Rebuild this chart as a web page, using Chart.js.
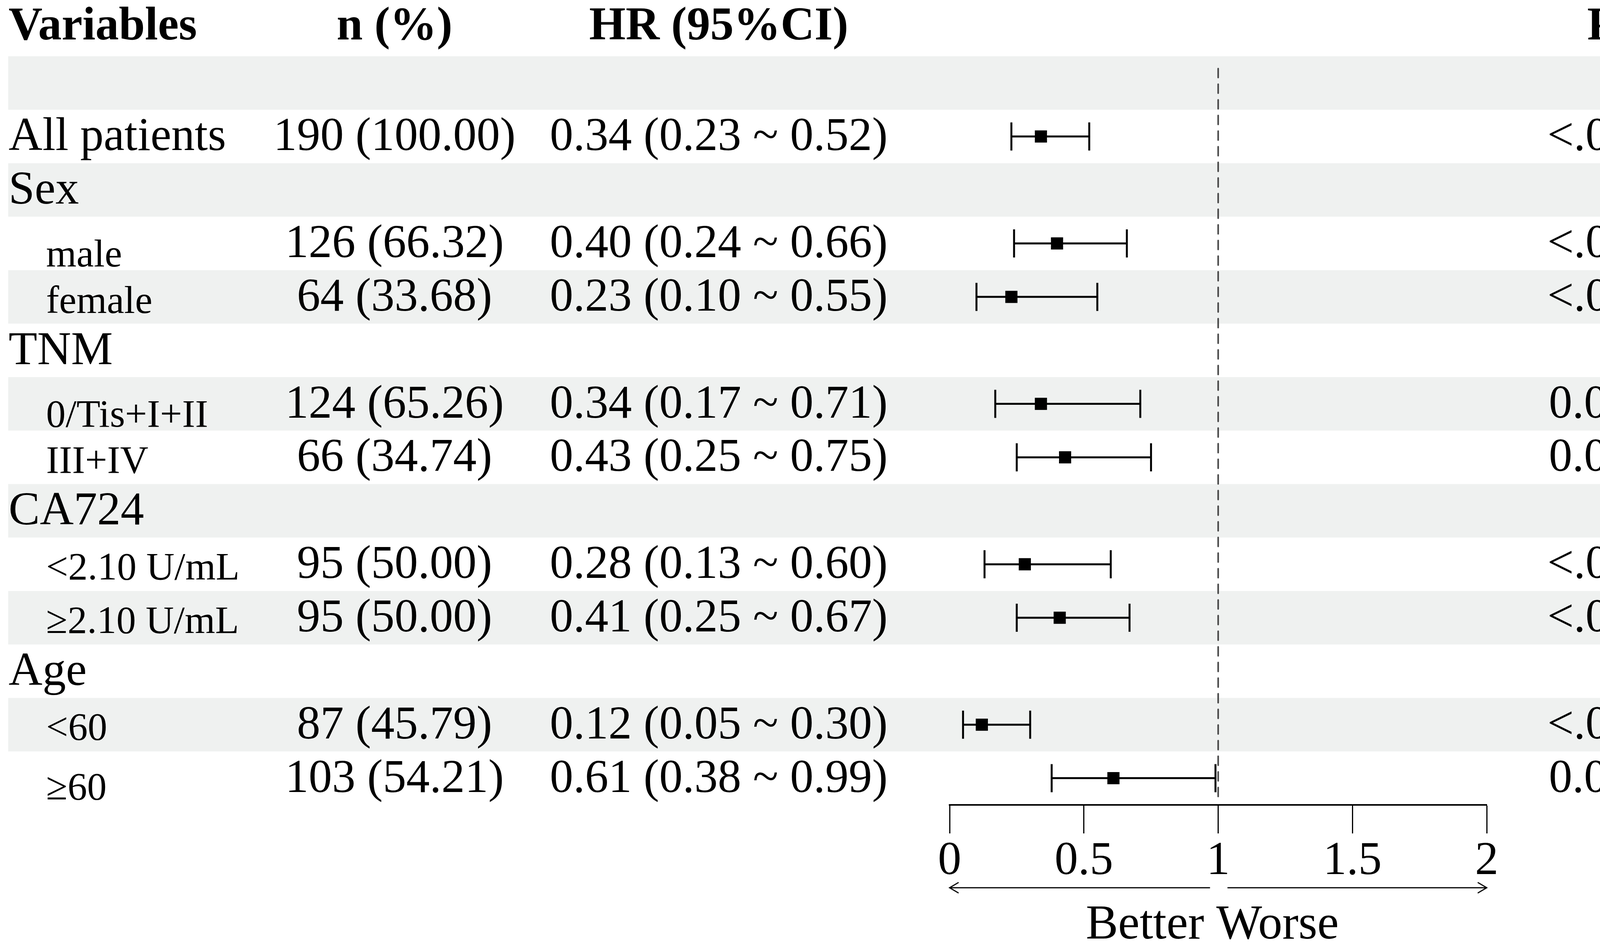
<!DOCTYPE html>
<html>
<head>
<meta charset="utf-8">
<script src="https://cdn.jsdelivr.net/npm/chart.js@4.4.1/dist/chart.umd.min.js"></script>
<style>
  html, body { margin: 0; padding: 0; background: #ffffff; }
  #wrap { width: 5208px; height: 2416px; }
</style>
</head>
<body>
<div id="wrap"><canvas id="c" width="5208" height="2416"></canvas></div>
<script>
// ---------------- data ----------------
const headers = ["Variables", "n (%)", "HR (95%CI)", "P", "P for interaction"];
const rowLabels = ["", "All patients", "Sex", "male", "female", "TNM", "0/Tis+I+II", "III+IV", "CA724", "<2.10 U/mL", "\u22652.10 U/mL", "Age", "<60", "\u226560"];
const rowLevel = [0, 0, 0, 1, 1, 0, 1, 1, 0, 1, 1, 0, 1, 1];
const nPercent = ["", "190 (100.00)", "", "126 (66.32)", "64 (33.68)", "", "124 (65.26)", "66 (34.74)", "", "95 (50.00)", "95 (50.00)", "", "87 (45.79)", "103 (54.21)"];
const hrEst  = [null, 0.34, null, 0.40, 0.23, null, 0.34, 0.43, null, 0.28, 0.41, null, 0.12, 0.61];
const hrLow  = [null, 0.23, null, 0.24, 0.10, null, 0.17, 0.25, null, 0.13, 0.25, null, 0.05, 0.38];
const hrHigh = [null, 0.52, null, 0.66, 0.55, null, 0.71, 0.75, null, 0.60, 0.67, null, 0.30, 0.99];
const pValue = ["", "<.001", "", "<.001", "<.001", "", "0.004", "0.003", "", "<.001", "<.001", "", "<.001", "0.045"];
const pInteraction = ["", "", "0.269", "", "", "0.633", "", "", "0.459", "", "", "0.001", "", ""];
const xTicks = [0, 0.5, 1, 1.5, 2];
const refValue = 1;
const axisLabel = "Better Worse";

// ---------------- layout / style ----------------
const FONT = "'Liberation Serif', 'Times New Roman', serif";
const BAND = "#eff1f0";
const COL = { label: 22, sub: 118, n: 1010, hr: 1840, p: 4100, pint: 4730, pintHead: 4746 };
const BAND_X0 = 21, BAND_X1 = 5193;
// baseline drop (from row centre) for indented labels
const subDrop = { 3: 59, 4: 41, 6: 58, 7: 40, 9: 39, 10: 39, 12: 38, 13: 54 };

const rowIdx = rowLabels.map((_, i) => i);
const fmt = v => v.toFixed(2);
const hrText = rowIdx.map(i => hrEst[i] == null ? "" : `${fmt(hrEst[i])} (${fmt(hrLow[i])} ~ ${fmt(hrHigh[i])})`);

const datasets = [];
// HR point estimates (squares) - drawn on top
datasets.push({
  type: 'scatter',
  data: rowIdx.filter(i => hrEst[i] != null).map(i => ({ x: hrEst[i], y: i })),
  pointStyle: 'rect',
  pointRadius: 22,
  pointBackgroundColor: '#000',
  pointBorderWidth: 0,
  showLine: false
});
// CI whiskers with caps
rowIdx.filter(i => hrEst[i] != null).forEach(i => {
  datasets.push({
    type: 'line',
    data: [{ x: hrLow[i], y: i }, { x: hrHigh[i], y: i }],
    borderColor: '#000',
    borderWidth: 5,
    pointStyle: 'line',
    pointRotation: 90,
    pointRadius: 36,
    pointBorderColor: '#000',
    pointBorderWidth: 5,
    fill: false
  });
});
// dashed reference line at HR = 1
datasets.push({
  type: 'line',
  data: [{ x: refValue, y: -0.27 }, { x: refValue, y: 13.35 }],
  borderColor: '#444',
  borderWidth: 4,
  borderDash: [23, 17],
  borderCapStyle: 'round',
  pointRadius: 0,
  fill: false
});

const tablePlugin = {
  id: 'table',
  beforeDraw(chart) {
    const ctx = chart.ctx, ys = chart.scales.y;
    ctx.save();
    ctx.fillStyle = '#fff';
    ctx.fillRect(0, 0, chart.width, chart.height);
    ctx.fillStyle = BAND;
    rowIdx.forEach(i => {
      if (i % 2 === 0) {
        const t = ys.getPixelForValue(i - 0.5), b = ys.getPixelForValue(i + 0.5);
        ctx.fillRect(BAND_X0, t, BAND_X1 - BAND_X0, b - t);
      }
    });
    ctx.restore();
  },
  afterDraw(chart) {
    const ctx = chart.ctx, ys = chart.scales.y, xs = chart.scales.x;
    ctx.save();
    ctx.fillStyle = '#000';
    ctx.textBaseline = 'alphabetic';
    // header
    const hy = ys.getPixelForValue(-1) + 25;
    ctx.font = `bold 120px ${FONT}`;
    ctx.textAlign = 'left';  ctx.fillText(headers[0], COL.label, hy);
    ctx.textAlign = 'center';
    ctx.fillText(headers[1], COL.n, hy);
    ctx.fillText(headers[2], COL.hr, hy);
    ctx.fillText(headers[3], COL.p, hy);
    ctx.fillText(headers[4], COL.pintHead, hy);
    // rows
    rowIdx.forEach(i => {
      const yc = ys.getPixelForValue(i);
      const by = yc + 35;
      if (rowLabels[i]) {
        ctx.textAlign = 'left';
        if (rowLevel[i] === 1) {
          ctx.font = `100px ${FONT}`;
          ctx.fillText(rowLabels[i], COL.sub, yc + (subDrop[i] != null ? subDrop[i] : 40));
        } else {
          ctx.font = `120px ${FONT}`;
          ctx.fillText(rowLabels[i], COL.label, by);
        }
      }
      ctx.font = `120px ${FONT}`;
      ctx.textAlign = 'center';
      if (nPercent[i]) ctx.fillText(nPercent[i], COL.n, by);
      if (hrText[i]) ctx.fillText(hrText[i], COL.hr, by);
      if (pValue[i]) ctx.fillText(pValue[i], COL.p, by);
      if (pInteraction[i]) ctx.fillText(pInteraction[i], COL.pint, by);
    });
    // direction arrows below the axis
    const ay = chart.chartArea.bottom + 212;
    const x0 = xs.getPixelForValue(xTicks[0]);
    const x1 = xs.getPixelForValue(refValue);
    const x2 = xs.getPixelForValue(xTicks[xTicks.length - 1]);
    ctx.strokeStyle = '#000';
    ctx.lineWidth = 3;
    ctx.lineCap = 'round';
    ctx.beginPath();
    ctx.moveTo(x1 - 22, ay); ctx.lineTo(x0, ay);
    ctx.moveTo(x0 + 22, ay - 13); ctx.lineTo(x0, ay); ctx.lineTo(x0 + 22, ay + 13);
    ctx.moveTo(x1 + 25, ay); ctx.lineTo(x2, ay);
    ctx.moveTo(x2 - 22, ay - 13); ctx.lineTo(x2, ay); ctx.lineTo(x2 - 22, ay + 13);
    ctx.stroke();
    ctx.font = `124px ${FONT}`;
    ctx.textAlign = 'center';
    ctx.fillText(axisLabel, x1 - 15, chart.chartArea.bottom + 342);
    ctx.restore();
  }
};

new Chart(document.getElementById('c'), {
  data: { datasets },
  options: {
    responsive: false,
    devicePixelRatio: 1,
    animation: false,
    events: [],
    layout: { padding: { left: 2431, right: 1402, top: 144, bottom: 0 } },
    plugins: { legend: { display: false }, tooltip: { enabled: false }, title: { display: false } },
    scales: {
      x: {
        type: 'linear',
        position: 'bottom',
        min: xTicks[0],
        max: xTicks[xTicks.length - 1],
        afterBuildTicks: s => { s.ticks = xTicks.map(v => ({ value: v })); },
        afterFit: s => { s.height = 356; },
        ticks: {
          color: '#000',
          font: { family: FONT, size: 120 },
          padding: 0,
          maxRotation: 0,
          autoSkip: false,
          callback: v => String(v)
        },
        grid: { drawOnChartArea: false, drawTicks: true, tickLength: 73, tickWidth: 3, tickColor: '#000' },
        border: { display: true, color: '#000', width: 4 }
      },
      y: {
        type: 'linear',
        min: -0.5,
        max: 13.5,
        reverse: true,
        display: false
      }
    }
  },
  plugins: [tablePlugin]
});
</script>
</body>
</html>
